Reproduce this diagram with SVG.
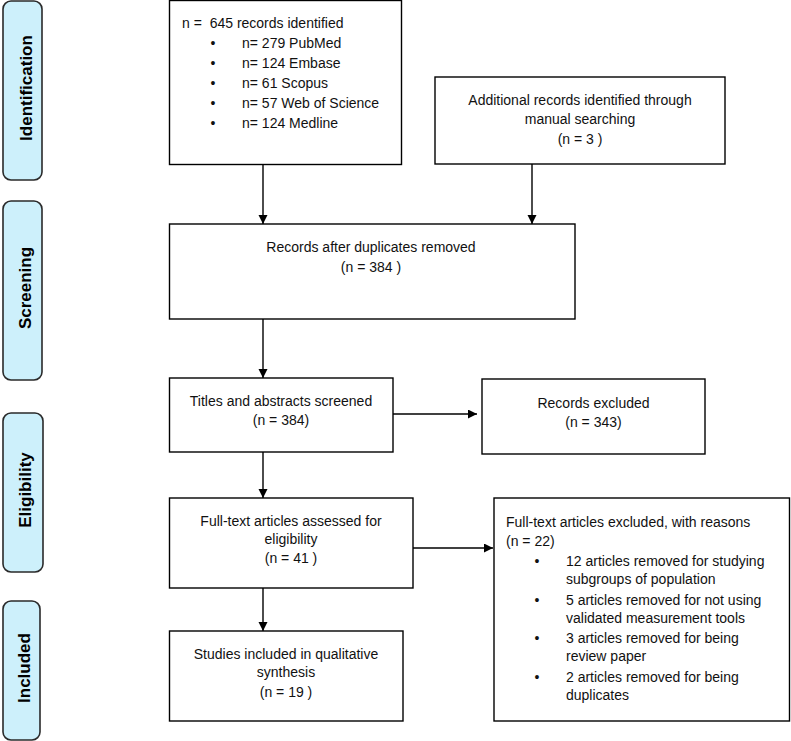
<svg xmlns="http://www.w3.org/2000/svg" width="791" height="741" viewBox="0 0 791 741">
<defs>
<style>
.box{fill:#fff;stroke:#000;stroke-width:1.4}
.lab{fill:#cdf0fb;stroke:#2a2a2a;stroke-width:1.6}
.lt{font-family:"Liberation Sans",Arial,sans-serif;font-size:17px;font-weight:bold;fill:#000;text-anchor:middle}
.t{font-family:"Liberation Sans",Arial,sans-serif;font-size:14px;fill:#111;white-space:pre}
.c{text-anchor:middle}
.con{stroke:#000;stroke-width:1.4;fill:none;marker-end:url(#ah)}
</style>
<marker id="ah" markerUnits="userSpaceOnUse" markerWidth="10" markerHeight="10" refX="9" refY="4.5" orient="auto">
<path d="M0,0 L9,4.5 L0,9 z" fill="#000"/>
</marker>
</defs>
<rect width="791" height="741" fill="#fff"/>

<g id="label-identification">
<rect class="lab" x="3" y="1" width="39" height="179" rx="8"/>
<text class="lt" transform="translate(32,88) rotate(-90)">Identification</text>
</g>
<g id="label-screening">
<rect class="lab" x="3" y="201" width="39" height="179" rx="8"/>
<text class="lt" transform="translate(31,288) rotate(-90)">Screening</text>
</g>
<g id="label-eligibility">
<rect class="lab" x="3" y="413" width="40" height="159" rx="8"/>
<text class="lt" transform="translate(31,490) rotate(-90)">Eligibility</text>
</g>
<g id="label-included">
<rect class="lab" x="3" y="601" width="37" height="139" rx="8"/>
<text class="lt" transform="translate(30,668) rotate(-90)">Included</text>
</g>

<g id="connectors">
<line class="con" x1="263" y1="165" x2="263" y2="224"/>
<line class="con" x1="532" y1="164" x2="532" y2="224"/>
<line class="con" x1="263" y1="319" x2="263" y2="378"/>
<line class="con" x1="393" y1="414" x2="477" y2="414"/>
<line class="con" x1="263" y1="452" x2="263" y2="498"/>
<line class="con" x1="413" y1="548" x2="493" y2="548"/>
<line class="con" x1="263" y1="588" x2="263" y2="631"/>
</g>

<g id="node-identified">
<rect class="box" x="169.5" y="0.5" width="232" height="164"/>
<text class="t" x="182" y="28">n =  645 records identified</text>
<text class="t" x="213" y="48" text-anchor="middle">•</text><text class="t" x="242" y="48">n= 279 PubMed</text>
<text class="t" x="213" y="68" text-anchor="middle">•</text><text class="t" x="242" y="68">n= 124 Embase</text>
<text class="t" x="213" y="88" text-anchor="middle">•</text><text class="t" x="242" y="88">n= 61 Scopus</text>
<text class="t" x="213" y="108" text-anchor="middle">•</text><text class="t" x="242" y="108">n= 57 Web of Science</text>
<text class="t" x="213" y="128" text-anchor="middle">•</text><text class="t" x="242" y="128">n= 124 Medline</text>
</g>

<g id="node-additional">
<rect class="box" x="435" y="77" width="290" height="87"/>
<text class="t c" x="580" y="105">Additional records identified through</text>
<text class="t c" x="580" y="124">manual searching</text>
<text class="t c" x="580" y="144">(n = 3 )</text>
</g>

<g id="node-duplicates">
<rect class="box" x="169.5" y="224" width="405.5" height="95"/>
<text class="t c" x="371" y="252">Records after duplicates removed</text>
<text class="t c" x="371" y="272">(n = 384 )</text>
</g>

<g id="node-screened">
<rect class="box" x="169.5" y="378" width="223.5" height="74"/>
<text class="t c" x="281" y="406">Titles and abstracts screened</text>
<text class="t c" x="281" y="425">(n = 384)</text>
</g>

<g id="node-excluded">
<rect class="box" x="482" y="379" width="223" height="75"/>
<text class="t c" x="593.5" y="408">Records excluded</text>
<text class="t c" x="593.5" y="427">(n = 343)</text>
</g>

<g id="node-fulltext">
<rect class="box" x="169.5" y="498" width="243.5" height="90"/>
<text class="t c" x="291" y="526">Full-text articles assessed for</text>
<text class="t c" x="291" y="544">eligibility</text>
<text class="t c" x="291" y="563">(n = 41 )</text>
</g>

<g id="node-fulltext-excluded">
<rect class="box" x="494" y="498" width="295.5" height="223"/>
<text class="t" x="506" y="527">Full-text articles excluded, with reasons</text>
<text class="t" x="506" y="546">(n = 22)</text>
<text class="t" x="537" y="566" text-anchor="middle">•</text><text class="t" x="566" y="566">12 articles removed for studying</text>
<text class="t" x="566" y="584">subgroups of population</text>
<text class="t" x="537" y="605" text-anchor="middle">•</text><text class="t" x="566" y="605">5 articles removed for not using</text>
<text class="t" x="566" y="623">validated measurement tools</text>
<text class="t" x="537" y="643" text-anchor="middle">•</text><text class="t" x="566" y="643">3 articles removed for being</text>
<text class="t" x="566" y="661">review paper</text>
<text class="t" x="537" y="682" text-anchor="middle">•</text><text class="t" x="566" y="682">2 articles removed for being</text>
<text class="t" x="566" y="700">duplicates</text>
</g>

<g id="node-included">
<rect class="box" x="169.5" y="631" width="233.5" height="90"/>
<text class="t c" x="286" y="659">Studies included in qualitative</text>
<text class="t c" x="286" y="677">synthesis</text>
<text class="t c" x="286" y="697">(n = 19 )</text>
</g>
</svg>
